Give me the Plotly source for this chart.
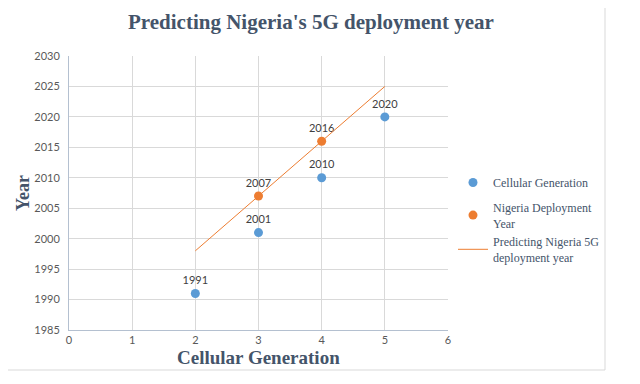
import plotly.graph_objects as go

gen_x = [2, 3, 4, 5]
gen_y = [1991, 2001, 2010, 2020]
ng_x = [3, 4]
ng_y = [2007, 2016]
pred_x = [2, 3, 4, 5]
pred_y = [1998, 2007, 2016, 2025]

BLUE = "#5B9BD5"
ORANGE = "#ED7D31"
TXT = "#44546A"
SERIF = "Liberation Serif, Times New Roman, serif"
SANS = "Lato, Liberation Sans, sans-serif"

OFF = 8  # default page body margin
W, H = 640 - OFF, 384 - OFF
# reference plot area: x 69..448, y 56..330
L, R, T, B = 69 - OFF, 640 - 448, 56 - OFF, 384 - 330
PW, PH = W - L - R, H - T - B

def px(x):
    return (x - OFF - L) / PW

def py(y):
    return (H - B - (y - OFF)) / PH

fig = go.Figure()
fig.add_trace(go.Scatter(
    x=gen_x, y=gen_y, mode="markers+text", name="Cellular Generation",
    legendgroup="a",
    marker=dict(color=BLUE, size=9),
    text=[str(v) for v in gen_y], textposition="top center",
    textfont=dict(family=SANS, size=11, color="#404040"),
))
fig.add_trace(go.Scatter(
    x=ng_x, y=ng_y, mode="markers+text", name="Nigeria Deployment<br>Year",
    legendgroup="b",
    marker=dict(color=ORANGE, size=9),
    text=[str(v) for v in ng_y], textposition="top center",
    textfont=dict(family=SANS, size=11, color="#404040"),
))
fig.add_trace(go.Scatter(
    x=pred_x, y=pred_y, mode="lines", name="Predicting Nigeria 5G<br>deployment year",
    legendgroup="b",
    line=dict(color=ORANGE, width=1),
))

fig.update_layout(
    width=W, height=H,
    margin=dict(l=L, r=R, t=T, b=B),
    paper_bgcolor="white", plot_bgcolor="white",
    showlegend=True,
    legend=dict(
        x=px(453), y=py(168), xanchor="left", yanchor="top",
        font=dict(family=SERIF, size=12, color=TXT),
        bgcolor="rgba(0,0,0,0)", tracegroupgap=6,
    ),
    xaxis=dict(
        range=[0, 6], dtick=1, tick0=0,
        showgrid=True, gridcolor="#D9D9D9", gridwidth=1,
        showline=True, linecolor="#B4C0D0", linewidth=1,
        zeroline=False, ticks="",
        tickfont=dict(family=SANS, size=11, color="#595959"),
    ),
    yaxis=dict(
        range=[1985, 2030], dtick=5, tick0=1985,
        showgrid=True, gridcolor="#D9D9D9", gridwidth=1,
        showline=True, linecolor="#B4C0D0", linewidth=1,
        zeroline=False, ticks="", ticklabelstandoff=6,
        tickfont=dict(family=SANS, size=11, color="#595959"),
    ),
    annotations=[
        dict(text="<b>Predicting Nigeria's 5G deployment year</b>", x=px(311), y=py(22),
             xref="paper", yref="paper", showarrow=False, xanchor="center", yanchor="middle",
             font=dict(family=SERIF, size=21, color=TXT)),
        dict(text="<b>Cellular Generation</b>", x=px(258), y=py(357),
             xref="paper", yref="paper", showarrow=False, xanchor="center", yanchor="middle",
             font=dict(family=SERIF, size=19, color=TXT)),
        dict(text="<b>Year</b>", x=px(23), y=py(193), textangle=-90,
             xref="paper", yref="paper", showarrow=False, xanchor="center", yanchor="middle",
             font=dict(family=SERIF, size=18, color=TXT)),
    ],
    shapes=[
        dict(type="rect", xref="paper", yref="paper",
             x0=px(3), x1=px(605), y0=py(370), y1=py(4),
             line=dict(color="#D9D9D9", width=1), layer="below"),
    ],
)

fig.write_html("out.html")
